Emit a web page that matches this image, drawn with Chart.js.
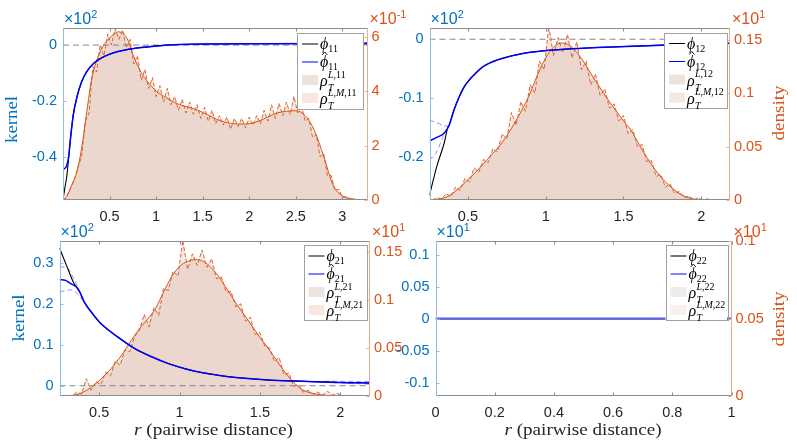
<!DOCTYPE html>
<html><head><meta charset="utf-8">
<script src="https://cdn.jsdelivr.net/npm/chart.js@4.4.0/dist/chart.umd.min.js"></script>
<style>
html,body{margin:0;padding:0;background:#fff;}
#wrap{position:relative;width:797px;height:447px;overflow:hidden;background:#fff;}
#wrap canvas{position:absolute;left:0;top:0;}
</style></head><body>
<div id="wrap">
<canvas id="c1" width="797" height="447"></canvas>
<canvas id="c2" width="797" height="447"></canvas>
<canvas id="c3" width="797" height="447"></canvas>
<canvas id="c4" width="797" height="447"></canvas>
</div>
<script>
// ---------------- data (kernel values in units of the x10^n axis multiplier) ----------------
// Panel 11
const P1_XTICKS = [0.5, 1, 1.5, 2, 2.5, 3];
const P1_XLABELS = ['0.5', '1', '1.5', '2', '2.5', '3'];
const P1_YTICKS = [-0.4, -0.2, 0];
const P1_YLABELS = ['-0.4', '-0.2', '0'];
const P1_Y2TICKS = [0, 2, 4, 6];
const P1_Y2LABELS = ['0', '2', '4', '6'];
const P1_PHI_X = [0, 0.02, 0.04, 0.06, 0.08, 0.11, 0.15, 0.2, 0.255, 0.33, 0.435, 0.58, 0.76, 1.04, 1.25, 1.6, 2.2, 3.27];
const P1_PHI_Y = [-0.553, -0.51, -0.47, -0.405, -0.335, -0.25, -0.185, -0.131, -0.095, -0.065, -0.042, -0.024, -0.012, -0.002, 0.002, 0.004, 0.005, 0.006];
const P1_PHIHAT_X = [0, 0.02, 0.04, 0.06, 0.08, 0.11, 0.15, 0.2, 0.255, 0.33, 0.435, 0.58, 0.76, 1.04, 1.25, 1.6, 2.2, 3.27];
const P1_PHIHAT_Y = [-0.445, -0.44, -0.43, -0.40, -0.335, -0.25, -0.185, -0.131, -0.095, -0.065, -0.042, -0.024, -0.012, -0.002, 0.002, 0.004, 0.005, 0.006];
const P1_BANDHI_X = [2.9, 3.27];
const P1_BANDHI_Y = [0.007, 0.009];
const P1_BANDLO_X = [2.9, 3.27];
const P1_BANDLO_Y = [0.005, 0.003];
const P1_RHO_X = [0, 0.05, 0.1, 0.15, 0.2, 0.25, 0.3, 0.35, 0.4, 0.45, 0.5, 0.55, 0.6, 0.65, 0.7, 0.75, 0.8, 0.85, 0.9, 1.0, 1.1, 1.2, 1.3, 1.4, 1.5, 1.6, 1.7, 1.8, 1.9, 2.0, 2.1, 2.2, 2.3, 2.4, 2.5, 2.6, 2.7, 2.8, 2.9, 3.0, 3.1, 3.2, 3.27];
const P1_RHO_Y = [0, 0.2, 0.6, 1.05, 1.9, 3.1, 4.3, 5.0, 5.45, 5.75, 5.95, 6.1, 6.18, 6.1, 5.85, 5.35, 4.95, 4.62, 4.38, 4.0, 3.78, 3.58, 3.45, 3.36, 3.22, 3.05, 2.9, 2.82, 2.79, 2.8, 2.9, 3.05, 3.2, 3.26, 3.28, 3.1, 2.55, 1.6, 0.55, 0.15, 0.05, 0, 0];
const P1_EMP_X = [0, 0.04, 0.08, 0.12, 0.16, 0.2, 0.24, 0.28, 0.32, 0.36, 0.4, 0.44, 0.48, 0.52, 0.56, 0.6, 0.64, 0.68, 0.72, 0.76, 0.8, 0.84, 0.88, 0.92, 0.96, 1, 1.04, 1.08, 1.12, 1.16, 1.2, 1.24, 1.28, 1.32, 1.36, 1.4, 1.44, 1.48, 1.52, 1.56, 1.6, 1.64, 1.68, 1.72, 1.76, 1.8, 1.84, 1.88, 1.92, 1.96, 2, 2.04, 2.08, 2.12, 2.16, 2.2, 2.24, 2.28, 2.32, 2.36, 2.4, 2.44, 2.48, 2.52, 2.56, 2.6, 2.64, 2.68, 2.72, 2.76, 2.8, 2.84, 2.88, 2.92, 2.96, 3, 3.04, 3.08, 3.12, 3.16, 3.2, 3.24];
const P1_EMP_Y = [0, 0.1, 0.45, 0.7, 1.2, 1.6, 2.9, 3.2, 4.9, 4.7, 5.7, 5.3, 6.1, 5.7, 6.3, 5.9, 6.25, 5.6, 5.9, 5.0, 5.3, 4.4, 4.8, 4.1, 4.5, 3.8, 4.2, 3.6, 4.1, 3.5, 3.8, 3.3, 3.7, 3.2, 3.6, 3.15, 3.5, 3.0, 3.4, 2.9, 3.3, 2.8, 3.1, 2.75, 3.05, 2.6, 3.0, 2.7, 3.0, 2.65, 3.05, 2.75, 3.1, 2.8, 3.3, 2.9, 3.5, 3.0, 3.55, 3.1, 3.6, 3.15, 3.8, 3.2, 3.5, 2.9, 3.0, 2.3, 2.4, 1.6, 1.7, 0.9, 0.9, 0.35, 0.4, 0.1, 0.12, 0.02, 0.03, 0, 0, 0];

// Panel 12
const P2_XTICKS = [0.5, 1, 1.5, 2];
const P2_XLABELS = ['0.5', '1', '1.5', '2'];
const P2_YTICKS = [-0.2, -0.1, 0];
const P2_YLABELS = ['-0.2', '-0.1', '0'];
const P2_Y2TICKS = [0, 0.05, 0.1, 0.15];
const P2_Y2LABELS = ['0', '0.05', '0.1', '0.15'];
const P2_PHI_X = [0.253, 0.3, 0.347, 0.37, 0.38, 0.41, 0.445, 0.475, 0.54, 0.6, 0.69, 0.8, 0.9, 1.12, 1.33, 1.75, 2.185];
const P2_PHI_Y = [-0.264, -0.215, -0.176, -0.15, -0.145, -0.12, -0.097, -0.081, -0.06, -0.046, -0.035, -0.027, -0.022, -0.017, -0.014, -0.01, -0.007];
const P2_PHIHAT_X = [0.253, 0.3, 0.347, 0.38, 0.41, 0.445, 0.475, 0.54, 0.6, 0.69, 0.8, 0.9, 1.12, 1.33, 1.75, 2.185];
const P2_PHIHAT_Y = [-0.172, -0.166, -0.159, -0.145, -0.12, -0.097, -0.081, -0.06, -0.046, -0.035, -0.027, -0.022, -0.017, -0.014, -0.01, -0.007];
const P2_BANDHI_X = [0.253, 0.3, 0.34, 0.37];
const P2_BANDHI_Y = [-0.137, -0.141, -0.146, -0.147];
const P2_BANDLO_X = [0.253, 0.3, 0.34, 0.37];
const P2_BANDLO_Y = [-0.205, -0.19, -0.165, -0.15];
const P2_RHO_X = [0.253, 0.3, 0.35, 0.4, 0.45, 0.5, 0.55, 0.6, 0.65, 0.7, 0.75, 0.8, 0.85, 0.9, 0.95, 1.0, 1.05, 1.1, 1.15, 1.2, 1.25, 1.3, 1.35, 1.4, 1.45, 1.5, 1.55, 1.6, 1.65, 1.7, 1.75, 1.8, 1.85, 1.9, 1.95, 2.0, 2.185];
const P2_RHO_Y = [0, 0.0005, 0.002, 0.006, 0.012, 0.019, 0.026, 0.034, 0.042, 0.05, 0.06, 0.072, 0.085, 0.1, 0.118, 0.133, 0.143, 0.147, 0.145, 0.138, 0.128, 0.116, 0.105, 0.094, 0.084, 0.074, 0.065, 0.052, 0.04, 0.029, 0.02, 0.013, 0.007, 0.003, 0.001, 0, 0];
const P23_EMP_X = [0.27, 0.3, 0.33, 0.36, 0.39, 0.42, 0.45, 0.48, 0.51, 0.54, 0.57, 0.6, 0.63, 0.66, 0.69, 0.72, 0.75, 0.78, 0.81, 0.84, 0.87, 0.9, 0.93, 0.96, 0.99, 1.02, 1.05, 1.08, 1.11, 1.14, 1.17, 1.2, 1.23, 1.26, 1.29, 1.32, 1.35, 1.38, 1.41, 1.44, 1.47, 1.5, 1.53, 1.56, 1.59, 1.62, 1.65, 1.68, 1.71, 1.74, 1.77, 1.8, 1.83, 1.86, 1.89, 1.92, 1.95, 1.98, 2.01, 2.04, 2.07, 2.1];
const P2_EMP_Y = [0, 0.002, 0.001, 0.006, 0.003, 0.012, 0.009, 0.02, 0.017, 0.03, 0.026, 0.038, 0.035, 0.048, 0.045, 0.062, 0.057, 0.082, 0.07, 0.092, 0.083, 0.108, 0.1, 0.13, 0.122, 0.163, 0.135, 0.152, 0.138, 0.155, 0.133, 0.148, 0.122, 0.13, 0.108, 0.118, 0.098, 0.104, 0.086, 0.09, 0.074, 0.079, 0.062, 0.066, 0.05, 0.052, 0.036, 0.037, 0.022, 0.024, 0.012, 0.015, 0.006, 0.008, 0.002, 0.004, 0, 0.002, 0, 0.001, 0, 0];

// Panel 21
const P3_XTICKS = [0.5, 1, 1.5, 2];
const P3_XLABELS = ['0.5', '1', '1.5', '2'];
const P3_YTICKS = [0, 0.1, 0.2, 0.3];
const P3_YLABELS = ['0', '0.1', '0.2', '0.3'];
const P3_Y2TICKS = [0, 0.05, 0.1, 0.15];
const P3_Y2LABELS = ['0', '0.05', '0.1', '0.15'];
const P3_PHI_X = [0.253, 0.3, 0.34, 0.36, 0.38, 0.406, 0.46, 0.51, 0.615, 0.72, 0.83, 0.93, 1.04, 1.14, 1.25, 1.35, 1.55, 1.77, 2.0, 2.185];
const P3_PHI_Y = [0.336, 0.29, 0.252, 0.24, 0.228, 0.205, 0.175, 0.152, 0.119, 0.091, 0.07, 0.054, 0.041, 0.032, 0.025, 0.02, 0.014, 0.011, 0.008, 0.007];
const P3_PHIHAT_X = [0.253, 0.29, 0.323, 0.36, 0.38, 0.406, 0.46, 0.51, 0.615, 0.72, 0.83, 0.93, 1.04, 1.14, 1.25, 1.35, 1.55, 1.77, 2.0, 2.185];
const P3_PHIHAT_Y = [0.259, 0.257, 0.249, 0.24, 0.228, 0.205, 0.175, 0.152, 0.119, 0.091, 0.07, 0.054, 0.041, 0.032, 0.025, 0.02, 0.014, 0.011, 0.008, 0.007];
const P3_BANDHI_X = [0.253, 0.3, 0.34, 0.37];
const P3_BANDHI_Y = [0.29, 0.288, 0.262, 0.238];
const P3_BANDLO_X = [0.253, 0.29, 0.33, 0.37, 0.4];
const P3_BANDLO_Y = [0.229, 0.232, 0.234, 0.222, 0.208];
const P3_TAILHI_X = [1.9, 2.185];
const P3_TAILHI_Y = [0.011, 0.01];
const P3_TAILLO_X = [1.9, 2.185];
const P3_TAILLO_Y = [0.009, 0.004];
const P3_RHO_X = [0.253, 0.3, 0.35, 0.4, 0.45, 0.5, 0.55, 0.6, 0.65, 0.7, 0.75, 0.8, 0.85, 0.9, 0.95, 1.0, 1.05, 1.1, 1.15, 1.2, 1.25, 1.3, 1.35, 1.4, 1.45, 1.5, 1.55, 1.6, 1.65, 1.7, 1.75, 1.8, 1.85, 1.9, 2.0, 2.185];
const P3_RHO_Y = [0, 0.0003, 0.001, 0.004, 0.009, 0.016, 0.024, 0.034, 0.045, 0.058, 0.07, 0.08, 0.091, 0.108, 0.124, 0.135, 0.14, 0.142, 0.14, 0.133, 0.123, 0.11, 0.097, 0.085, 0.073, 0.061, 0.05, 0.038, 0.026, 0.016, 0.008, 0.004, 0.002, 0.0008, 0, 0];
const P3_EMP_Y = [0, 0.001, 0, 0.004, 0.002, 0.018, 0.006, 0.015, 0.012, 0.025, 0.021, 0.036, 0.032, 0.048, 0.046, 0.062, 0.068, 0.085, 0.072, 0.092, 0.084, 0.112, 0.11, 0.13, 0.125, 0.162, 0.132, 0.148, 0.136, 0.152, 0.134, 0.143, 0.122, 0.124, 0.108, 0.109, 0.093, 0.096, 0.078, 0.082, 0.064, 0.066, 0.052, 0.05, 0.036, 0.04, 0.022, 0.024, 0.01, 0.012, 0.004, 0.006, 0.002, 0.004, 0.001, 0.005, 0.001, 0.003, 0, 0.001, 0, 0];

// Panel 22
const P4_XTICKS = [0, 0.2, 0.4, 0.6, 0.8, 1];
const P4_XLABELS = ['0', '0.2', '0.4', '0.6', '0.8', '1'];
const P4_YTICKS = [-0.1, -0.05, 0, 0.05, 0.1];
const P4_YLABELS = ['-0.1', '-0.05', '0', '0.05', '0.1'];
const P4_Y2TICKS = [0, 0.05, 0.1];
const P4_Y2LABELS = ['0', '0.05', '0.1'];
const P4_PHI_X = [0, 1];
const P4_PHI_Y = [0, 0];
const P4_PHIHAT_X = [0, 1];
const P4_PHIHAT_Y = [0, 0];

// ---------------- helpers ----------------
const SERIF = "'Liberation Serif','DejaVu Serif',serif";
const SANS = "'Liberation Sans',Arial,Helvetica,sans-serif";
const AXBLUE = '#0072BD', AXORANGE = '#D95319', RHO = '#D95319';
const zip = (xs, ys) => xs.map((x, i) => ({x: x, y: ys[i]}));
function lineDS(xs, ys, o) {
  return Object.assign({type: 'line', data: zip(xs, ys), pointRadius: 0, pointHoverRadius: 0,
    borderWidth: 1, fill: false, tension: 0, backgroundColor: 'transparent'}, o);
}
function labelFn(vals, labels) {
  return v => { const i = vals.findIndex(t => Math.abs(t - v) < 1e-9); return i >= 0 ? labels[i] : ''; };
}
function runsWidth(ctx, runs) { let w = 0; for (const r of runs) { ctx.font = r[1]; w += ctx.measureText(r[0]).width; } return w; }
function drawRuns(ctx, runs, x, y) {
  for (const r of runs) { ctx.font = r[1]; ctx.fillText(r[0], x, y + (r[2] || 0)); x += ctx.measureText(r[0]).width; }
  return x;
}
function drawFit(ctx, runs, cx, by, targetW, rot) {
  ctx.save();
  ctx.translate(cx, by);
  if (rot) ctx.rotate(rot);
  const w = runsWidth(ctx, runs);
  const s = targetW / w;
  ctx.scale(s, 1);
  ctx.textBaseline = 'alphabetic'; ctx.textAlign = 'left';
  drawRuns(ctx, runs, -w / 2, 0);
  ctx.restore();
}
function hline(ctx, x1, x2, y) { ctx.beginPath(); ctx.moveTo(x1, y); ctx.lineTo(x2, y); ctx.stroke(); }
function vline(ctx, x, y1, y2) { ctx.beginPath(); ctx.moveTo(x, y1); ctx.lineTo(x, y2); ctx.stroke(); }

function drawLegend(ctx, L) {
  ctx.save();
  ctx.fillStyle = '#fff';
  ctx.fillRect(L.x, L.y, L.w, L.h);
  ctx.strokeStyle = '#a0a0a0'; ctx.lineWidth = 1;
  ctx.strokeRect(Math.round(L.x) + 0.5, Math.round(L.y) + 0.5, Math.round(L.w), Math.round(L.h));
  const lx1 = L.x + 5, lx2 = L.x + 21, tx = L.x + 23;
  const it = 'italic 16px ' + SERIF, sub = '10px ' + SERIF, itS = 'italic 10px ' + SERIF;
  ctx.textBaseline = 'alphabetic'; ctx.textAlign = 'left';
  // entry 1: phi
  let y = L.y + 11;
  ctx.strokeStyle = L.dim ? 'rgba(60,60,60,0.7)' : '#000'; ctx.lineWidth = L.dim ? 2 : 1;
  hline(ctx, lx1, lx2, y);
  ctx.fillStyle = '#000';
  drawRuns(ctx, [['ϕ', it], [L.idx, sub, 3]], tx, y + 5);
  // entry 2: phi hat
  y = L.y + 29;
  ctx.strokeStyle = L.dim ? 'rgba(90,90,255,0.75)' : '#0000ff'; ctx.lineWidth = L.dim ? 2 : 1;
  hline(ctx, lx1, lx2, y);
  ctx.font = it; const wp = ctx.measureText('ϕ').width;
  drawRuns(ctx, [['ϕ', it], [L.idx, sub, 3]], tx, y + 5);
  ctx.strokeStyle = '#000'; ctx.lineWidth = 0.9;
  const hc = tx + wp * 0.58;
  ctx.beginPath(); ctx.moveTo(hc - 2.6, y - 7); ctx.lineTo(hc, y - 10); ctx.lineTo(hc + 2.6, y - 7); ctx.stroke();
  // entry 3 & 4: rho swatches
  const rows = [
    {y: L.y + 47, col: L.dim ? '#efebe9' : '#ece3df', sup: [['L', itS], [',' + L.idx, sub]]},
    {y: L.y + 65, col: L.dim ? '#f9f0ed' : '#f8e7e1', sup: [['L', itS], [',', sub], ['M', itS], [',' + L.idx, sub]]}
  ];
  for (const r of rows) {
    ctx.fillStyle = r.col;
    ctx.fillRect(lx1, r.y - 5, lx2 - lx1, 10);
    ctx.fillStyle = '#000';
    ctx.font = it; const wr = ctx.measureText('ρ').width;
    ctx.fillText('ρ', tx, r.y + 6);
    drawRuns(ctx, [['T', itS]], tx + wr + 0.3, r.y + 11);
    drawRuns(ctx, r.sup, tx + wr + 0.3, r.y - 2.5);
  }
  ctx.restore();
}

function makeDeco(P) {
  return {
    id: 'deco',
    afterDraw(chart) {
      const ctx = chart.ctx, a = chart.chartArea, sc = chart.scales;
      ctx.save();
      const L = Math.round(a.left) + 0.5, R = Math.round(a.right) - 0.5, T = Math.round(a.top) + 0.5, B = Math.round(a.bottom) - 0.5;
      ctx.lineWidth = 1;
      // x ticks (bottom & top, inward)
      ctx.strokeStyle = '#8c8c8c';
      for (const v of P.xt) { const px = Math.round(sc.x.getPixelForValue(v)) + 0.5; vline(ctx, px, B, B - 3); vline(ctx, px, T, T + 3); }
      hline(ctx, L - 0.5, R + 0.5, T); hline(ctx, L - 0.5, R + 0.5, B);
      // left axis
      ctx.strokeStyle = '#8dbfe3';
      vline(ctx, L, T - 0.5, B + 0.5);
      for (const v of P.yt) { const py = Math.round(sc.y.getPixelForValue(v)) + 0.5; hline(ctx, L, L + 3, py); }
      // right axis
      ctx.strokeStyle = '#eeab8d';
      vline(ctx, R, T - 0.5, B + 0.5);
      for (const v of P.y2t) { const py = Math.round(sc.y2.getPixelForValue(v)) + 0.5; hline(ctx, R - 3, R, py); }
      // exponent labels
      ctx.textBaseline = 'alphabetic'; ctx.textAlign = 'left';
      ctx.fillStyle = AXBLUE;
      drawRuns(ctx, [['×10', '16px ' + SANS], [P.expL, '11px ' + SANS, -6]], a.left + 1, a.top - 4);
      ctx.fillStyle = AXORANGE;
      drawRuns(ctx, [['×10', '16px ' + SANS], [P.expR, '11px ' + SANS, -6]], a.right + 2, a.top - 4);
      // axis titles
      if (P.ylabL) { ctx.fillStyle = AXBLUE; drawFit(ctx, [[P.ylabL.text, '16px ' + SERIF]], P.ylabL.cx, P.ylabL.cy, P.ylabL.w, -Math.PI / 2); }
      if (P.ylabR) { ctx.fillStyle = AXORANGE; drawFit(ctx, [[P.ylabR.text, '16px ' + SERIF]], P.ylabR.cx, P.ylabR.cy, P.ylabR.w, -Math.PI / 2); }
      if (P.xlab) { ctx.fillStyle = '#262626'; drawFit(ctx, [['r', 'italic 17px ' + SERIF], [' (pairwise distance)', '17px ' + SERIF]], P.xlab.cx, P.xlab.by, P.xlab.w, 0); }
      drawLegend(ctx, P.legend);
      ctx.restore();
    }
  };
}

function makePanel(P) {
  const ctx = document.getElementById(P.id).getContext('2d');
  const fontTick = {family: SANS, size: 14.5};
  const wl = P.area.l, wr = 797 - P.area.r, hb = 447 - P.area.b;
  new Chart(ctx, {
    type: 'line',
    data: {datasets: P.datasets},
    plugins: [makeDeco(P)],
    options: {
      responsive: false, animation: false, events: [],
      layout: {padding: {left: 0, right: 0, top: P.area.t, bottom: 0}},
      plugins: {legend: {display: false}, tooltip: {enabled: false}},
      scales: {
        x: {type: 'linear', position: 'bottom', min: P.x[0], max: P.x[1],
          grid: {display: false, drawTicks: false}, border: {display: false},
          afterBuildTicks: s => { s.ticks = P.xt.map(v => ({value: v})); },
          afterFit: s => { s.height = hb; s.paddingLeft = 0; s.paddingRight = 0; },
          ticks: {color: '#262626', font: fontTick, padding: 8, autoSkip: false, maxRotation: 0, callback: labelFn(P.xt, P.xl)}},
        y: {type: 'linear', position: 'left', min: P.y[0], max: P.y[1],
          grid: {display: false, drawTicks: false}, border: {display: false},
          afterBuildTicks: s => { s.ticks = P.yt.map(v => ({value: v})); },
          afterFit: s => { s.width = wl; s.paddingTop = 0; s.paddingBottom = 0; },
          ticks: {color: AXBLUE, font: fontTick, padding: 6, autoSkip: false, callback: labelFn(P.yt, P.yl)}},
        y2: {type: 'linear', position: 'right', min: P.y2[0], max: P.y2[1],
          grid: {display: false, drawTicks: false}, border: {display: false},
          afterBuildTicks: s => { s.ticks = P.y2t.map(v => ({value: v})); },
          afterFit: s => { s.width = wr; s.paddingTop = 0; s.paddingBottom = 0; },
          ticks: {color: AXORANGE, font: fontTick, padding: 4, autoSkip: false, callback: labelFn(P.y2t, P.y2l)}}
      }
    }
  });
}

function rhoSets(rx, ry, ex, ey) {
  return [
    lineDS(rx, ry, {yAxisID: 'y2', borderWidth: 0, borderColor: 'transparent', backgroundColor: 'rgba(160,120,100,0.19)', fill: 'origin', cubicInterpolationMode: 'monotone', order: 20}),
    lineDS(ex, ey, {yAxisID: 'y2', borderWidth: 0, borderColor: 'transparent', backgroundColor: 'rgba(232,178,158,0.30)', fill: 'origin', order: 19}),
    lineDS(ex, ey, {yAxisID: 'y2', borderColor: RHO, borderWidth: 0.9, borderDash: [4, 2], order: 12}),
    lineDS(rx, ry, {yAxisID: 'y2', borderColor: RHO, borderWidth: 1, cubicInterpolationMode: 'monotone', order: 11})
  ];
}
function zeroSet(x0, x1) {
  return lineDS([x0, x1], [0, 0], {yAxisID: 'y', borderColor: '#858585', borderWidth: 1, borderDash: [6, 4], order: 8});
}
function bandSet(xs, ys) {
  return lineDS(xs, ys, {yAxisID: 'y', borderColor: 'rgba(110,110,255,0.75)', borderWidth: 1, borderDash: [5, 3], cubicInterpolationMode: 'monotone', order: 5});
}
function kernelSets(px, py, hx, hy) {
  return [
    lineDS(px, py, {yAxisID: 'y', borderColor: '#000', borderWidth: 1.1, cubicInterpolationMode: 'monotone', order: 3}),
    lineDS(hx, hy, {yAxisID: 'y', borderColor: '#0000ff', borderWidth: 1.5, cubicInterpolationMode: 'monotone', order: 1})
  ];
}

makePanel({
  id: 'c1', area: {l: 63, r: 367.5, t: 28, b: 200}, x: [0, 3.27], y: [-0.553, 0.061], y2: [0, 6.32],
  xt: P1_XTICKS, xl: P1_XLABELS, yt: P1_YTICKS, yl: P1_YLABELS, y2t: P1_Y2TICKS, y2l: P1_Y2LABELS,
  datasets: [].concat(rhoSets(P1_RHO_X, P1_RHO_Y, P1_EMP_X, P1_EMP_Y), [zeroSet(0, 3.27), bandSet(P1_BANDHI_X, P1_BANDHI_Y), bandSet(P1_BANDLO_X, P1_BANDLO_Y)], kernelSets(P1_PHI_X, P1_PHI_Y, P1_PHIHAT_X, P1_PHIHAT_Y)),
  expL: '2', expR: '-1', ylabL: {text: 'kernel', cx: 17, cy: 114 + 5.5, w: 47},
  legend: {x: 297, y: 33, w: 66, h: 76, idx: '11'}
});
makePanel({
  id: 'c2', area: {l: 429.5, r: 730, t: 28, b: 200}, x: [0.253, 2.185], y: [-0.272, 0.019], y2: [0, 0.161],
  xt: P2_XTICKS, xl: P2_XLABELS, yt: P2_YTICKS, yl: P2_YLABELS, y2t: P2_Y2TICKS, y2l: P2_Y2LABELS,
  datasets: [].concat(rhoSets(P2_RHO_X, P2_RHO_Y, P23_EMP_X, P2_EMP_Y), [zeroSet(0.253, 2.185), bandSet(P2_BANDHI_X, P2_BANDHI_Y), bandSet(P2_BANDLO_X, P2_BANDLO_Y)], kernelSets(P2_PHI_X, P2_PHI_Y, P2_PHIHAT_X, P2_PHIHAT_Y)),
  expL: '2', expR: '1', ylabR: {text: 'density', cx: 780 + 4, cy: 113, w: 55},
  legend: {x: 664, y: 32.5, w: 63, h: 75, idx: '12'}
});
makePanel({
  id: 'c3', area: {l: 59.5, r: 370, t: 241, b: 396}, x: [0.253, 2.185], y: [-0.025, 0.353], y2: [0, 0.1614],
  xt: P3_XTICKS, xl: P3_XLABELS, yt: P3_YTICKS, yl: P3_YLABELS, y2t: P3_Y2TICKS, y2l: P3_Y2LABELS,
  datasets: [].concat(rhoSets(P3_RHO_X, P3_RHO_Y, P23_EMP_X, P3_EMP_Y), [zeroSet(0.253, 2.185), bandSet(P3_BANDHI_X, P3_BANDHI_Y), bandSet(P3_BANDLO_X, P3_BANDLO_Y), bandSet(P3_TAILHI_X, P3_TAILHI_Y), bandSet(P3_TAILLO_X, P3_TAILLO_Y)], kernelSets(P3_PHI_X, P3_PHI_Y, P3_PHIHAT_X, P3_PHIHAT_Y)),
  expL: '2', expR: '1', ylabL: {text: 'kernel', cx: 18 + 5.5, cy: 318, w: 47},
  xlab: {cx: 213.5, by: 435, w: 159},
  legend: {x: 303.5, y: 245, w: 62.5, h: 75, idx: '21'}
});
makePanel({
  id: 'c4', area: {l: 435.5, r: 731.5, t: 241, b: 396}, x: [0, 1], y: [-0.12, 0.121], y2: [0, 0.1],
  xt: P4_XTICKS, xl: P4_XLABELS, yt: P4_YTICKS, yl: P4_YLABELS, y2t: P4_Y2TICKS, y2l: P4_Y2LABELS,
  datasets: [
    lineDS(P4_PHI_X, P4_PHI_Y, {yAxisID: 'y', borderColor: 'rgba(60,60,60,0.7)', borderWidth: 2, order: 3}),
    lineDS(P4_PHIHAT_X, P4_PHIHAT_Y, {yAxisID: 'y', borderColor: 'rgba(100,100,240,0.85)', borderWidth: 2.5, order: 1})
  ],
  expL: '1', expR: '1', ylabR: {text: 'density', cx: 780 + 4, cy: 319, w: 55},
  xlab: {cx: 583, by: 435, w: 157},
  legend: {x: 665.5, y: 245, w: 61.5, h: 75, idx: '22', dim: true}
});
</script>
</body></html>
